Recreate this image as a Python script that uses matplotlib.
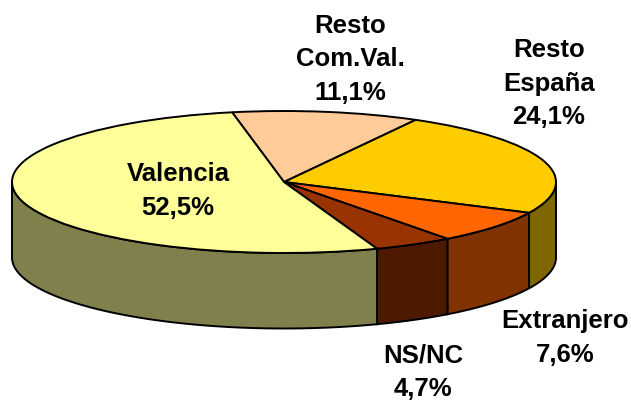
from matplotlib import pyplot as plt
import numpy as np

labels = ["Resto\nCom.Val.\n11,1%", "Resto\nEspaña\n24,1%", "Extranjero\n7,6%", "NS/NC\n4,7%", "Valencia\n52,5%"]
values = [11.1, 24.1, 7.6, 4.7, 52.5]
top_colors = ["#FFCC99", "#FFCC00", "#FF6600", "#993300", "#FFFF99"]
side_colors = ["#806650", "#806600", "#803300", "#4D1A00", "#80804D"]

W, H = 631, 400
cx, cy = 284, 182      # centre of top ellipse, pixels
rx, ry = 272, 71
depth = 75.5 / ry
start = 101

fig = plt.figure(figsize=(W / 100, H / 100), dpi=100)
ax = fig.add_axes([0, 0, 1, 1])

# side walls, only the part facing the viewer (lower half of the ellipse)
angles = start - np.cumsum([0] + values) * 3.6
for i in range(len(values)):
    a0, a1 = angles[i + 1], angles[i]
    lo, hi = max(a0, -180), min(a1, 0)
    if lo >= hi:
        continue
    t = np.radians(np.linspace(lo, hi, 80))
    xs = np.concatenate([np.cos(t), np.cos(t[::-1])])
    ys = np.concatenate([np.sin(t), np.sin(t[::-1]) - depth])
    ax.fill(xs, ys, facecolor=side_colors[i], edgecolor="black", linewidth=1.4, zorder=1)

wedges, _ = ax.pie(values, colors=top_colors, startangle=start, counterclock=False,
                   radius=1, wedgeprops={"edgecolor": "black", "linewidth": 1.4})
for w in wedges:
    w.set_zorder(2)

# unit circle stretched to the ellipse
ax.set_aspect("auto")
ax.set_xlim(-cx / rx, (W - cx) / rx)
ax.set_ylim((cy - H) / ry, cy / ry)
ax.axis("off")

label_pos = [(350, 59.5), (549, 84), (565, 338), (423, 372.5), (178, 191)]
for lab, (px, py) in zip(labels, label_pos):
    ax.text((px - cx) / rx, (cy - py) / ry, lab, ha="center", va="center", fontsize=18.5,
            fontweight="bold", family="Liberation Sans", linespacing=1.5, zorder=3)

fig.savefig("out.png", dpi=100)
